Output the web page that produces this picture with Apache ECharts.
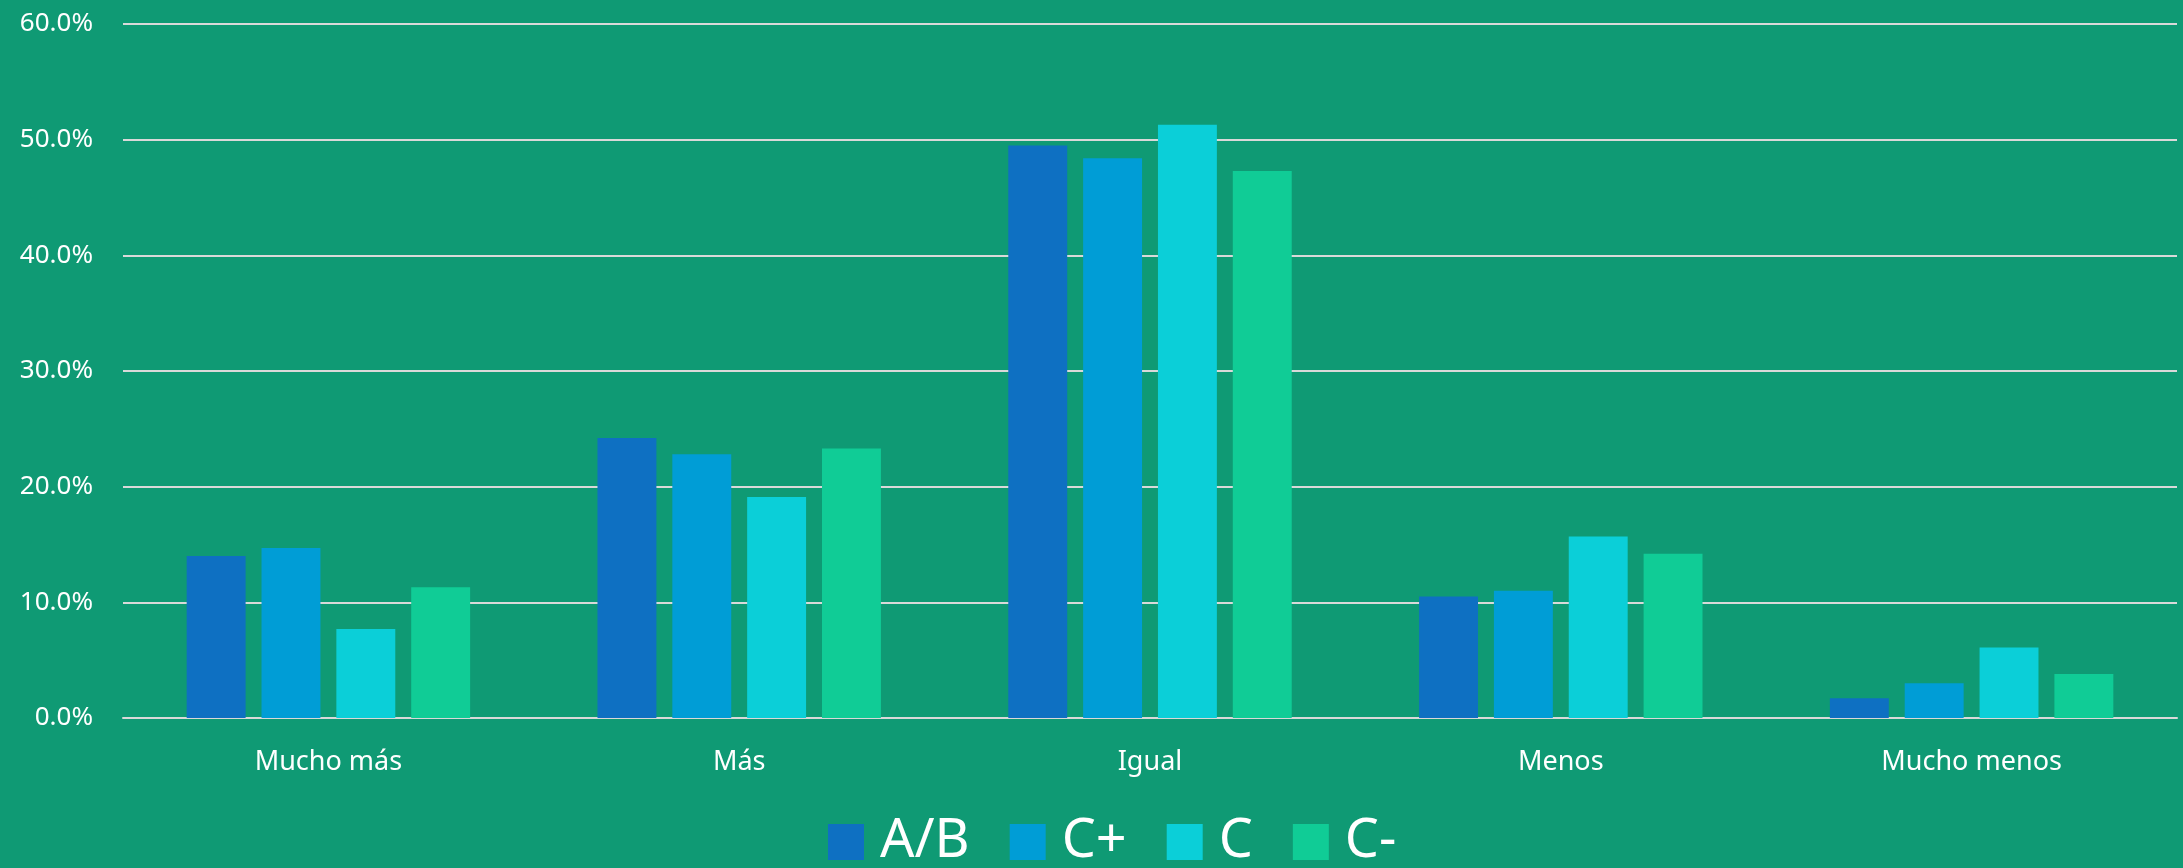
<!DOCTYPE html>
<html>
<head>
<meta charset="utf-8">
<script src="https://cdn.jsdelivr.net/npm/echarts@6/dist/echarts.min.js"></script>
<style>
html,body{margin:0;padding:0;background:#0F9A74;}
#c{width:2183px;height:868px;}
</style>
</head>
<body>
<div id="c"></div>
<script>
const categories = ['Mucho más', 'Más', 'Igual', 'Menos', 'Mucho menos'];
const seriesNames = ['A/B', 'C+', 'C', 'C-'];
const valuesAB = [14.0, 24.2, 49.5, 10.5, 1.7];
const valuesCplus = [14.7, 22.8, 48.4, 11.0, 3.0];
const valuesC = [7.7, 19.1, 51.3, 15.7, 6.1];
const valuesCminus = [11.3, 23.3, 47.3, 14.2, 3.8];
const colors = ['#0E70C2', '#009DD6', '#0BCFD8', '#10CC96'];

const allValues = [valuesAB, valuesCplus, valuesC, valuesCminus];
const font = 'Noto Sans';

const chart = echarts.init(document.getElementById('c'), null, {renderer: 'canvas'});
chart.setOption({
  backgroundColor: '#0F9A74',
  animation: false,
  grid: {left: 123, right: 6, top: 24, bottom: 150, containLabel: false},
  legend: {
    data: seriesNames,
    left: 823,
    top: 807,
    itemWidth: 36,
    itemHeight: 36,
    itemGap: 40,
    icon: 'rect',
    textStyle: {color: '#FFFFFF', fontSize: 54, fontFamily: font, lineHeight: 60, padding: [0, 0, 0, 11]}
  },
  xAxis: {
    type: 'category',
    data: categories,
    axisLine: {show: true, lineStyle: {color: '#D9D9D9', width: 2}},
    axisTick: {show: false},
    axisLabel: {color: '#FFFFFF', fontSize: 27, fontFamily: font, margin: 31}
  },
  yAxis: {
    type: 'value',
    min: 0,
    max: 60,
    interval: 10,
    axisLine: {show: false},
    axisTick: {show: false},
    splitLine: {lineStyle: {color: '#D9D9D9', width: 2}},
    axisLabel: {color: '#FFFFFF', fontSize: 26, fontFamily: font, margin: 30,
      formatter: v => v.toFixed(1) + '%'}
  },
  series: seriesNames.map((n, i) => ({
    name: n,
    type: 'bar',
    data: allValues[i],
    barGap: '27%',
    barCategoryGap: '31%',
    itemStyle: {color: colors[i]}
  }))
});
</script>
</body>
</html>
